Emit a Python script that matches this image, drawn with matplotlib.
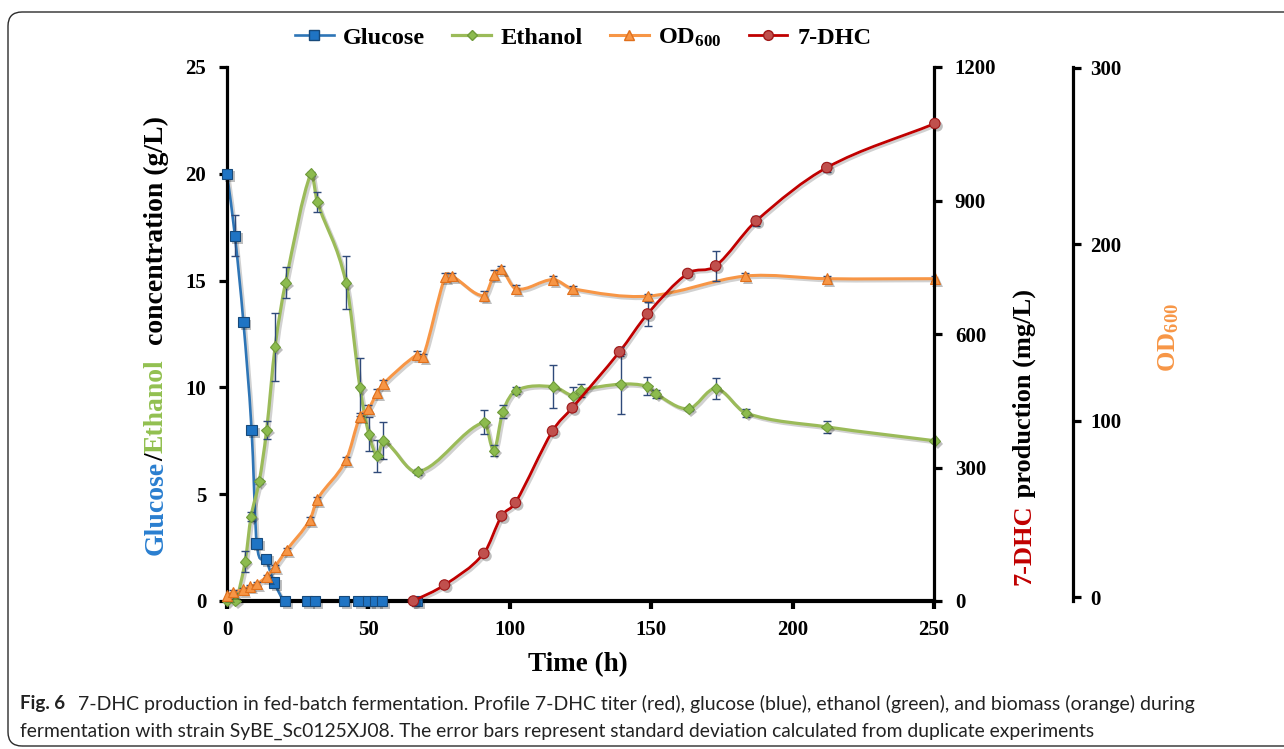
import numpy as np
import matplotlib as mpl
mpl.use('Agg')
import matplotlib.pyplot as plt
from matplotlib.path import Path
from matplotlib.patches import PathPatch, FancyBboxPatch
from matplotlib.lines import Line2D
from matplotlib.transforms import IdentityTransform
import matplotlib.patheffects as pe

plt.rcParams['font.family'] = 'Liberation Serif'
plt.rcParams['font.weight'] = 'bold'
plt.rcParams['mathtext.fontset'] = 'custom'
plt.rcParams['mathtext.rm'] = 'Liberation Serif:bold'
plt.rcParams['mathtext.it'] = 'Liberation Serif:bold'
plt.rcParams['mathtext.bf'] = 'Liberation Serif:bold'

# ---------------- data ----------------
t_glc = [0, 2.8, 5.8, 8.7, 10.5, 13.7, 16.7, 20.5, 28.2, 31.1, 41.4, 46.5, 49.8, 52.3, 54.8, 67.1]
glc = [20.0, 17.1, 13.05, 8.0, 2.7, 1.97, 0.86, 0, 0, 0, 0, 0, 0, 0, 0, 0]
glc_err = [0.1, 0.95, 0.15, 0.1, 0.1, 0.1, 0.1, 0, 0, 0, 0, 0, 0, 0, 0, 0]

t_eth = [0, 3, 6.4, 8.5, 11.4, 14, 17, 20.7, 29.6, 31.9, 42.1, 47, 50.2, 53.1, 55.3, 67.5,
         91, 94.4, 97.5, 102.2, 115.4, 122.5, 125, 139.2, 148.6, 151.6, 163.2, 172.9, 183.5, 212.1, 250.3]
eth = [0, 0, 1.84, 3.95, 5.6, 8.0, 11.9, 14.9, 20.0, 18.7, 14.9, 10.0, 7.8, 6.8, 7.5, 6.05,
       8.37, 7.04, 8.86, 9.85, 10.03, 9.6, 9.85, 10.15, 10.05, 9.7, 9.0, 9.95, 8.8, 8.15, 7.5]
eth_err = [0, 0, 0.48, 0.2, 0.1, 0.43, 1.6, 0.72, 0.1, 0.47, 1.24, 1.36, 0.8, 0.75, 0.86, 0.15,
           0.56, 0.25, 0.3, 0.15, 1.0, 0.4, 0.3, 1.4, 0.42, 0.2, 0.1, 0.5, 0.2, 0.3, 0.1]

t_od = [0, 2.2, 5.8, 8.1, 10.5, 14, 17, 21.1, 29.3, 31.9, 42.1, 47, 50, 53.1, 55.3, 67.1, 69.3,
        77.1, 79.5, 90.9, 94.4, 96.9, 102.2, 115.3, 122.2, 148.7, 183.3, 212.1, 250.3]
od = [1.0, 2.8, 4.3, 6.1, 7.4, 11.6, 17.3, 26.6, 43.7, 55.3, 77.7, 102.4, 106.7, 115.8, 121, 137.3, 136,
      181.6, 182, 170.8, 182.5, 185.9, 174.7, 180, 174.8, 170.6, 182, 180.5, 180.5]
od_err = [0.5, 1, 1, 1, 1, 1, 1, 1.5, 1.5, 1.5, 2, 2, 2, 2, 2, 2, 2,
          2, 2, 3, 3, 2, 2, 2, 1.5, 1.5, 1.5, 1.5, 1.5]

t_dhc = [65.9, 76.9, 90.8, 97.1, 102, 115.1, 122.1, 138.8, 148.7, 162.9, 172.8, 187.1, 212.1, 250.3]
dhc = [0, 36, 107, 191, 221, 382, 434, 560, 645, 736, 753, 854, 974, 1073]
dhc_err = [0, 3, 4, 5, 5, 6, 8, 10, 26, 5, 34, 12, 10, 3]

labels = ['Glucose', 'Ethanol', 'OD$_{600}$', '7-DHC']


def smooth_path(x, y):
    # excel-like smoothed line: cubic bezier through the points
    x = np.asarray(x, float)
    y = np.asarray(y, float)
    n = len(x)
    s = np.zeros(n)
    s[0] = (y[1] - y[0]) / (x[1] - x[0])
    s[-1] = (y[-1] - y[-2]) / (x[-1] - x[-2])
    s[1:-1] = (y[2:] - y[:-2]) / (x[2:] - x[:-2])
    verts = [(x[0], y[0])]
    codes = [Path.MOVETO]
    for i in range(n - 1):
        h = (x[i + 1] - x[i]) / 3.0
        verts += [(x[i] + h, y[i] + s[i] * h), (x[i + 1] - h, y[i + 1] - s[i + 1] * h), (x[i + 1], y[i + 1])]
        codes += [Path.CURVE4] * 3
    return Path(verts, codes)


line_fx = [pe.SimpleLineShadow(offset=(1.5, -1.5), shadow_color='k', alpha=0.18), pe.Normal()]
mark_fx = [pe.SimplePatchShadow(offset=(2, -2), shadow_rgbFace='k', alpha=0.25), pe.Normal()]
ecol = '#2f4a7a'


def series(ax, x, y, err, lc, lw, marker, ms, mfc, mec):
    ax.add_patch(PathPatch(smooth_path(x, y), fill=False, edgecolor=lc, lw=lw,
                           path_effects=line_fx, zorder=2, clip_on=True))
    ax.errorbar(x, y, yerr=err, fmt='none', ecolor=ecol, elinewidth=1.0, capsize=3,
                capthick=1.0, zorder=2.5)
    ax.plot(x, y, ls='none', marker=marker, ms=ms, mfc=mfc, mec=mec, mew=0.8,
            path_effects=mark_fx, zorder=3, clip_on=False)


W, H = 1284, 749
fig = plt.figure(figsize=(W / 100, H / 100), dpi=100)

# rounded frame around figure + caption
fig.add_artist(FancyBboxPatch((8, 3), 1320, 734, boxstyle='round,pad=0,rounding_size=14',
                              transform=IdentityTransform(), fill=False, edgecolor='#2b2b2b', lw=1.0))

ax = fig.add_axes([227 / W, 1 - 601 / H, (934 - 227) / W, (601 - 67) / H])
ax_od = ax.twinx()
ax_dhc = ax.twinx()

# glucose / ethanol
series(ax, t_glc, glc, glc_err, '#2e75b6', 1.9, 's', 7.5, '#1f74c4', '#17497a')
series(ax, t_eth, eth, eth_err, '#9bbb59', 2.3, 'D', 5.5, '#8cbb4e', '#6f9a3a')
ax.set_xlim(0, 250)
ax.set_ylim(0, 25)
ax.set_xticks(np.arange(0, 251, 50))
ax.set_yticks(np.arange(0, 26, 5))
for sp in ['top', 'right']:
    ax.spines[sp].set_visible(False)
ax.spines['left'].set_linewidth(2.3)
ax.spines['bottom'].set_linewidth(3.0)
ax.tick_params(axis='y', direction='out', length=6, width=2.3, labelsize=15, pad=9)
ax.tick_params(axis='x', direction='out', length=6, width=3.0, labelsize=15, pad=8)

# OD600 on the outer right axis
series(ax_od, t_od, od, od_err, '#f79646', 2.2, '^', 7.5, '#f79646', '#e0701c')
ax_od.set_ylim(-2.2, 300.5)
ax_od.set_yticks([0, 100, 200, 300])
ax_od.spines['right'].set_position(('axes', (1073 - 227) / (934 - 227)))
for sp in ['top', 'left', 'bottom']:
    ax_od.spines[sp].set_visible(False)
ax_od.spines['right'].set_linewidth(2.3)
ax_od.tick_params(axis='y', direction='out', length=6, width=2.3, labelsize=15, pad=6.5)

# 7-DHC on the inner right axis
series(ax_dhc, t_dhc, dhc, dhc_err, '#c00000', 2.0, 'o', 7.5, '#c0504d', '#a01818')
ax_dhc.set_ylim(0, 1200)
ax_dhc.set_yticks(np.arange(0, 1201, 300))
for sp in ['top', 'left', 'bottom']:
    ax_dhc.spines[sp].set_visible(False)
ax_dhc.spines['right'].set_linewidth(2.3)
ax_dhc.tick_params(axis='y', direction='out', length=6, width=2.3, labelsize=15, pad=9)

fig.text(578 / W, 1 - 665 / H, 'Time (h)', fontsize=19.5, ha='center', va='center')

# legend
handles = [
    Line2D([], [], color='#2e75b6', lw=1.9, marker='s', ms=7, mfc='#1f74c4', mec='#17497a'),
    Line2D([], [], color='#9bbb59', lw=2.3, marker='D', ms=5.5, mfc='#8cbb4e', mec='#6f9a3a'),
    Line2D([], [], color='#f79646', lw=2.2, marker='^', ms=7, mfc='#f79646', mec='#e0701c'),
    Line2D([], [], color='#c00000', lw=2.0, marker='o', ms=7, mfc='#c0504d', mec='#a01818'),
]
fig.legend(handles, labels, loc='center', bbox_to_anchor=(583 / W, 1 - 38 / H), ncol=4,
           frameon=False, fontsize=17.5, handlelength=1.6, handletextpad=0.4, columnspacing=1.1)

fig.canvas.draw()
rend = fig.canvas.get_renderer()


def vlabel(parts, xb, y0, size, gap=0):
    # multicolour vertical label, written bottom to top from pixel (xb, y0)
    y = H - y0
    for s, c in parts:
        t = fig.text(xb, y, s, color=c, fontsize=size, rotation=90, rotation_mode='anchor',
                     ha='left', va='baseline', transform=IdentityTransform())
        y += t.get_window_extent(rend).height + gap


vlabel([('Glucose', '#2a7fd0'), ('/', 'black'), ('Ethanol', '#92c050'),
        ('  concentration (g/L)', 'black')], 163, 555, 20)
vlabel([('7-DHC', '#c00000'), (' production (mg/L)', 'black')], 1031, 585, 19)
vlabel([('OD$_{600}$', '#f79646')], 1175, 372, 19)

# caption
c1 = fig.text(20 / W, 1 - 704 / H, 'Fig. 6', family='Lato', weight='bold', fontsize=13.5,
              ha='left', va='center', color='#222222')
c2 = fig.text(78 / W, 1 - 704 / H,
              '7-DHC production in fed-batch fermentation. Profile 7-DHC titer (red), glucose (blue), '
              'ethanol (green), and biomass (orange) during',
              family='Lato', weight='normal', fontsize=13.5, ha='left', va='center', color='#222222')
c3 = fig.text(20 / W, 1 - 731 / H,
              'fermentation with strain SyBE_Sc0125XJ08. The error bars represent standard deviation '
              'calculated from duplicate experiments',
              family='Lato', weight='normal', fontsize=13.5, ha='left', va='center', color='#222222')
for t, target in [(c2, 1195 - 78), (c3, 1093 - 20)]:
    w = t.get_window_extent(rend).width
    t.set_fontsize(13.5 * target / w)

fig.savefig('out.png', dpi=100)
